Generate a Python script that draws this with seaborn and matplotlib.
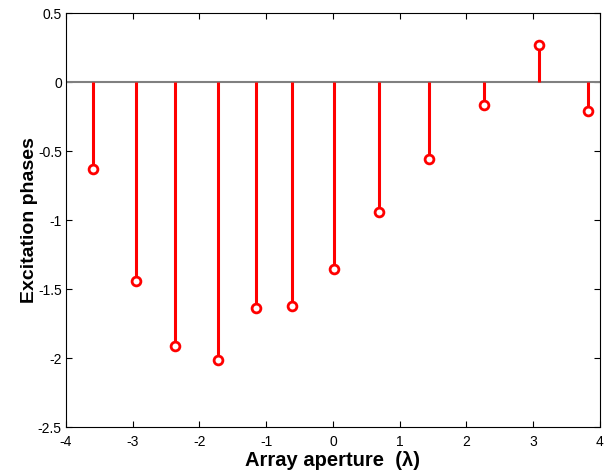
import numpy as np
import pandas as pd
import matplotlib
matplotlib.use("Agg")
import matplotlib.pyplot as plt
import seaborn as sns

# data
aperture = [-3.595, -2.955, -2.365, -1.72, -1.155, -0.615, 0.01, 0.685, 1.445, 2.27, 3.09, 3.83]
phases = [-0.632, -1.44, -1.915, -2.015, -1.637, -1.623, -1.352, -0.943, -0.555, -0.167, 0.267, -0.208]
x_ticks = [-4, -3, -2, -1, 0, 1, 2, 3, 4]
y_ticks = [0.5, 0, -0.5, -1, -1.5, -2, -2.5]
y_tick_labels = ["0.5", "0", "-0.5", "-1", "-1.5", "-2", "-2.5"]

df = pd.DataFrame({"aperture": aperture, "phase": phases})

sns.set_theme(style="ticks")
plt.rcParams["font.family"] = ["Liberation Sans", "DejaVu Sans"]

fig = plt.figure(figsize=(6.15, 4.75), dpi=100)
ax = fig.add_axes([0.1073, 0.101, 0.868, 0.8716])

# baseline and stems
ax.axhline(0, color="#808080", lw=1.5, zorder=1)
ax.vlines(df["aperture"], 0, df["phase"], color="red", lw=2.2, zorder=2)
sns.scatterplot(data=df, x="aperture", y="phase", ax=ax, marker="o", s=40,
                facecolor="white", edgecolor="red", linewidth=2, zorder=3, legend=False)

ax.set_xlim(-4, 4)
ax.set_ylim(-2.5, 0.5)
ax.set_xticks(x_ticks)
ax.set_xticklabels([str(t) for t in x_ticks])
ax.set_yticks(y_ticks)
ax.set_yticklabels(y_tick_labels)
ax.tick_params(direction="in", length=4, width=0.8, labelsize=10, colors="black",
               top=True, right=True)
ax.tick_params(axis="x", pad=6)
ax.tick_params(axis="y", pad=3)
for s in ax.spines.values():
    s.set_visible(True)
    s.set_linewidth(0.8)
    s.set_color("black")

ax.set_xlabel("Array aperture  (\u03bb)", fontsize=14.5, fontweight="bold",
              color="black", labelpad=1)
ax.set_ylabel("Excitation phases", fontsize=14, fontweight="bold",
              color="black", labelpad=0)

fig.savefig("out.png", dpi=100)
